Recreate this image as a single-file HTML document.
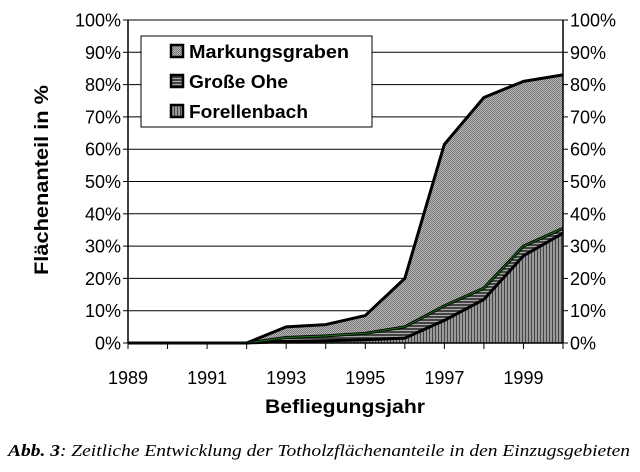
<!DOCTYPE html>
<html><head><meta charset="utf-8"><style>
body{margin:0;background:#fff;width:640px;height:472px;overflow:hidden}
svg{display:block}
text{font-family:"Liberation Sans",sans-serif}
</style></head><body>
<svg id="chart" width="640" height="472">
<defs>
<pattern id="pM" width="2" height="2" patternUnits="userSpaceOnUse"><rect width="2" height="2" fill="#b8b8b8"/><rect width="1" height="1" fill="#777"/><rect x="1" y="1" width="1" height="1" fill="#777"/></pattern>
<pattern id="pG" width="3" height="3" patternUnits="userSpaceOnUse"><rect width="3" height="3" fill="#444"/><rect width="3" height="1" fill="#aaa"/></pattern>
<pattern id="pF" width="3" height="3" patternUnits="userSpaceOnUse"><rect width="3" height="3" fill="#999"/><rect width="1" height="3" fill="#444"/></pattern>
</defs>
<g id="grid"></g>
<g id="areas"></g>
<g id="axes"></g>
<g>
<rect x="141" y="36" width="231" height="91" fill="#fff" stroke="#000" stroke-width="1"/>
<rect x="171" y="45" width="12" height="12" fill="url(#pM)" stroke="#000" stroke-width="2.5"/>
<text x="189" y="58" font-size="18" font-weight="bold" textLength="160" lengthAdjust="spacingAndGlyphs">Markungsgraben</text>
<rect x="171" y="75" width="12" height="12" fill="url(#pG)" stroke="#000" stroke-width="2.5"/>
<text x="189" y="88" font-size="18" font-weight="bold" textLength="99" lengthAdjust="spacingAndGlyphs">Große Ohe</text>
<rect x="171" y="105" width="12" height="12" fill="url(#pF)" stroke="#000" stroke-width="2.5"/>
<text x="189" y="118" font-size="18" font-weight="bold" textLength="119" lengthAdjust="spacingAndGlyphs">Forellenbach</text>
</g>
<text x="48" y="180" font-size="19" font-weight="bold" text-anchor="middle" textLength="190" lengthAdjust="spacingAndGlyphs" transform="rotate(-90 48 180)">Flächenanteil in %</text>
<text x="345" y="413" font-size="19" font-weight="bold" text-anchor="middle" textLength="160" lengthAdjust="spacingAndGlyphs">Befliegungsjahr</text>
<text x="8" y="456" font-size="17" font-style="italic" textLength="622" lengthAdjust="spacingAndGlyphs" style="font-family:'Liberation Serif',serif"><tspan font-weight="bold">Abb. 3</tspan>:  Zeitliche Entwicklung der Totholzflächenanteile in den Einzugsgebieten</text>
</svg>
<script>
const years=[1989,1990,1991,1992,1993,1994,1995,1996,1997,1998,1999,2000];
const forellenbach=[0,0,0,0,0.5,0.7,1,1.5,7,13.5,27,34];
const grosseOhe=[0,0,0,0,1.2,1.5,2,3.5,4.5,3.5,3,1.5];
const markungsgraben=[0,0,0,0,3.3,3.5,5.5,15,50,59,51,47.5];
const yTicks=[0,10,20,30,40,50,60,70,80,90,100];
const xLabels=[1989,1991,1993,1995,1997,1999];
const L=128,R=563,T=20,B=343;
const NS='http://www.w3.org/2000/svg';
const xs=i=>L+(R-L)*i/(years.length-1);
const ys=v=>B-(B-T)*v/100;
function mk(tag,attrs,parent){const e=document.createElementNS(NS,tag);for(const k in attrs)e.setAttribute(k,attrs[k]);parent.appendChild(e);return e;}
const grid=document.getElementById('grid'),areas=document.getElementById('areas'),axes=document.getElementById('axes');
yTicks.forEach(t=>{
 if(t>0){const g=mk('line',{x1:L,x2:R,y1:ys(t),y2:ys(t),stroke:'#000','stroke-width':1},grid);
 
 }
 const a=mk('text',{x:L-7,y:ys(t)+6.5,'font-size':18,'text-anchor':'end'},axes);a.textContent=t+'%';
 
 
 const b=mk('text',{x:R+7,y:ys(t)+6.5,'font-size':18},axes);b.textContent=t+'%';
 
 
 mk('line',{x1:L-5,x2:L,y1:ys(t),y2:ys(t),stroke:'#000'},axes);
 mk('line',{x1:R,x2:R+5,y1:ys(t),y2:ys(t),stroke:'#000'},axes);
});
const c1=forellenbach.slice(),c2=c1.map((v,i)=>v+grosseOhe[i]),c3=c2.map((v,i)=>v+markungsgraben[i]);
function area(lo,hi,fill,name,stroke){
 let d='M'+years.map((y,i)=>xs(i)+','+ys(hi[i])).join(' L');
 for(let i=years.length-1;i>=0;i--)d+=' L'+xs(i)+','+ys(lo[i]);
 const p=mk('path',{d:d+'Z',fill:fill,stroke:'none'},areas);
 
 
 const l=mk('polyline',{points:years.map((y,i)=>xs(i)+','+ys(hi[i])).join(' '),fill:'none',stroke:stroke,'stroke-width':3,'stroke-linejoin':'round'},areas);
 
 
}
const zero=years.map(()=>0);
area(c2,c3,'url(#pM)','area-markungsgraben','#000');
area(c1,c2,'url(#pG)','area-grosse-ohe','#000');
area(zero,c1,'url(#pF)','area-forellenbach','#000');
mk('polyline',{points:years.map((y,i)=>xs(i)+','+ys(c2[i])).join(' '),fill:'none',stroke:'#1a6a1a','stroke-width':1.2},areas);
mk('line',{x1:L,x2:L,y1:T,y2:B,stroke:'#000','stroke-width':1.5},axes);
mk('line',{x1:R,x2:R,y1:T,y2:B,stroke:'#000','stroke-width':1.5},axes);
mk('line',{x1:L,x2:R,y1:B,y2:B,stroke:'#000','stroke-width':1.5},axes);
years.forEach((y,i)=>mk('line',{x1:xs(i),x2:xs(i),y1:B,y2:B+6,stroke:'#000'},axes));
xLabels.forEach(y=>{const i=years.indexOf(y);const t=mk('text',{x:xs(i),y:B+41,'font-size':18,'text-anchor':'middle'},axes);t.textContent=y;
 
 });
</script>
</body></html>
